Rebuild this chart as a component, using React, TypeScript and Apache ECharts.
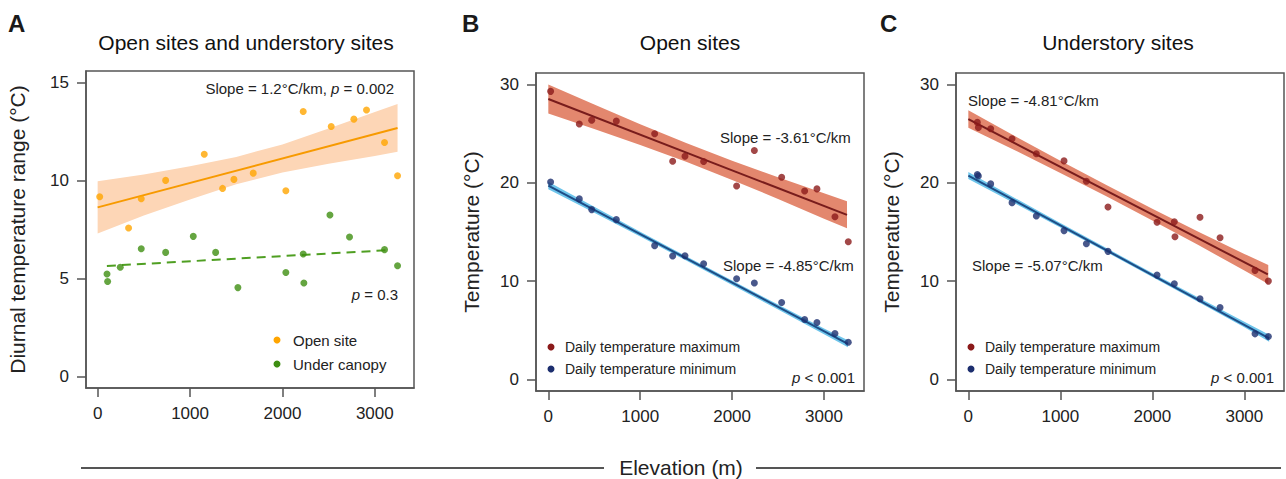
import React, { useEffect, useRef } from "react";
import * as echarts from "echarts";

const FONT = '"Liberation Sans", Arial, Helvetica, sans-serif';

// ---------- Panel A: diurnal temperature range ----------
const openElev = [22, 335, 472, 736, 1154, 1352, 1475, 1684, 2037, 2225, 2528, 2773, 2910, 3105, 3246];
const openDTR = [9.18, 7.59, 9.08, 10.02, 11.36, 9.61, 10.07, 10.39, 9.49, 13.54, 12.77, 13.15, 13.62, 11.96, 10.26];
const canopyElev = [101, 108, 245, 472, 736, 1035, 1277, 1518, 2037, 2225, 2232, 2514, 2726, 3105, 3246];
const canopyDTR = [5.24, 4.85, 5.58, 6.53, 6.34, 7.16, 6.34, 4.54, 5.31, 6.26, 4.78, 8.25, 7.13, 6.48, 5.66];
const openFitX = [0, 3246];
const openFitY = [8.64, 12.7];
const canopyFitX = [100, 3170];
const canopyFitY = [5.65, 6.46];
const bandXA = [0, 500, 1000, 1500, 2000, 2500, 3000, 3246];
const openBandHi = [9.98, 10.32, 10.74, 11.22, 11.86, 12.67, 13.51, 13.92];
const openBandLo = [7.3, 8.22, 9.04, 9.82, 10.42, 10.87, 11.27, 11.48];

// ---------- Panel B: open sites ----------
const openSiteElev = [25, 337, 472, 740, 1157, 1353, 1487, 1690, 2049, 2242, 2539, 2789, 2923, 3119, 3264];
const openMax = [29.32, 25.99, 26.39, 26.29, 25.0, 22.21, 22.72, 22.18, 19.69, 23.3, 20.58, 19.18, 19.39, 16.56, 14.01];
const openMin = [20.1, 18.37, 17.28, 16.26, 13.61, 12.55, 12.59, 11.77, 10.24, 9.8, 7.82, 6.09, 5.78, 4.66, 3.78];
const openMaxFitX = [0, 3250];
const openMaxFitY = [28.54, 16.74];
const openMinFitX = [0, 3260];
const openMinFitY = [19.73, 3.62];
const bandXB = [0, 500, 1000, 1500, 2000, 2500, 3000, 3250];
const openMaxHi = [30.02, 27.98, 25.96, 24.05, 22.26, 20.57, 18.95, 18.14];
const openMaxLo = [27.06, 25.48, 23.86, 22.15, 20.3, 18.37, 16.35, 15.38];
const bandXB2 = [0, 500, 1000, 1500, 2000, 2500, 3000, 3260];
const openMinHi = [20.11, 17.56, 15.03, 12.53, 10.05, 7.61, 5.18, 3.98];
const openMinLo = [19.35, 16.96, 14.53, 12.09, 9.61, 7.11, 4.58, 3.26];

// ---------- Panel C: understory sites ----------
const underMaxElev = [98, 109, 243, 475, 739, 1040, 1283, 1518, 2051, 2239, 2246, 2518, 2736, 3116, 3261];
const underMax = [26.16, 25.65, 25.51, 24.49, 22.96, 22.24, 20.17, 17.55, 15.99, 16.05, 14.52, 16.5, 14.42, 11.09, 10.0];
const underMinElev = [98, 109, 243, 475, 739, 1040, 1283, 1518, 2051, 2239, 2518, 2736, 3116, 3261];
const underMin = [20.85, 20.7, 19.9, 17.99, 16.63, 15.14, 13.81, 13.03, 10.61, 9.73, 8.2, 7.31, 4.63, 4.35];
const underMaxFitX = [0, 3255];
const underMaxFitY = [26.5, 10.68];
const underMinFitX = [0, 3270];
const underMinFitY = [20.75, 4.18];
const bandXC = [0, 500, 1000, 1500, 2000, 2500, 3000, 3260];
const underMaxHi = [27.39, 24.79, 22.26, 19.79, 17.38, 15.03, 12.77, 11.65];
const underMaxLo = [25.61, 23.35, 21.02, 18.63, 16.18, 13.67, 11.07, 9.71];
const bandXC2 = [0, 500, 1000, 1500, 2000, 2500, 3000, 3270];
const underMinHi = [21.1, 18.5, 15.91, 13.36, 10.83, 8.32, 5.85, 4.53];
const underMinLo = [20.4, 17.94, 15.47, 12.96, 10.43, 7.88, 5.29, 3.83];

// tick values
const elevTicks = [0, 1000, 2000, 3000];
const dtrTicks = [0, 5, 10, 15];
const tempTicks = [0, 10, 20, 30];

const C = {
  orange: "#FFA500",
  orangeLine: "#F79A00",
  orangeBand: "#FDD6B6",
  green: "#3E8E12",
  greenLine: "#4F9F22",
  red: "#8B1A1A",
  redLine: "#781C1C",
  redBand: "#E3876E",
  navy: "#1C2E6E",
  blueLine: "#1E4D86",
  blueBand: "#6EC5EB",
  axis: "#555555",
  text: "#222222",
};

const zip = (xs: number[], ys: number[]) => xs.map((x, i) => [x, ys[i]]);

const scatter = (name: string, xs: number[], ys: number[], color: string, idx: number) => ({
  type: "scatter",
  name,
  xAxisIndex: idx,
  yAxisIndex: idx,
  data: zip(xs, ys),
  symbol: "circle",
  symbolSize: 7,
  itemStyle: { color },
  z: 4,
  silent: true,
});

const fitLine = (name: string, xs: number[], ys: number[], color: string, idx: number, dashed = false) => ({
  type: "line",
  name,
  xAxisIndex: idx,
  yAxisIndex: idx,
  data: zip(xs, ys),
  symbol: "none",
  lineStyle: { color, width: 2, type: dashed ? [9, 6] : "solid" },
  z: 3,
  silent: true,
});

const band = (name: string, xs: number[], lo: number[], hi: number[], color: string, idx: number) => ({
  type: "custom",
  name,
  xAxisIndex: idx,
  yAxisIndex: idx,
  z: 1,
  silent: true,
  data: [[xs[0], lo[0]]],
  renderItem: (_params: any, api: any) => {
    const pts: number[][] = [];
    for (let i = 0; i < xs.length; i++) pts.push(api.coord([xs[i], hi[i]]));
    for (let i = xs.length - 1; i >= 0; i--) pts.push(api.coord([xs[i], lo[i]]));
    return { type: "polygon", shape: { points: pts }, style: { fill: color } };
  },
});

const plain = (v: number) => String(v);

const xAxisCfg = (idx: number, min: number, max: number) => ({
  type: "value",
  gridIndex: idx,
  min,
  max,
  axisLine: { show: true, onZero: false, lineStyle: { color: C.axis, width: 1.5 } },
  axisTick: { show: true, length: 9, customValues: elevTicks, lineStyle: { color: C.axis, width: 1.5 } },
  axisLabel: { customValues: elevTicks, formatter: plain, fontSize: 17, color: C.text, fontFamily: FONT, margin: 17 },
  splitLine: { show: false },
});

const yAxisCfg = (idx: number, min: number, max: number, ticks: number[], name: string, gap: number) => ({
  type: "value",
  gridIndex: idx,
  min,
  max,
  name,
  nameLocation: "middle",
  nameGap: gap,
  nameTextStyle: { fontSize: 21, color: C.text, fontFamily: FONT },
  axisLine: { show: true, onZero: false, lineStyle: { color: C.axis, width: 1.5 } },
  axisTick: { show: true, length: 9, customValues: ticks, lineStyle: { color: C.axis, width: 1.5 } },
  axisLabel: { customValues: ticks, formatter: plain, fontSize: 17, color: C.text, fontFamily: FONT, margin: 17 },
  splitLine: { show: false },
});

const txt = (x: number, y: number, text: string, size: number, align = "left", extra: any = {}) => ({
  type: "text",
  x,
  y,
  silent: true,
  style: {
    text,
    fontSize: size,
    fontFamily: FONT,
    fill: C.text,
    align,
    verticalAlign: "middle",
    textAlign: align,
    textVerticalAlign: "middle",
    ...extra,
  },
});

const richTxt = (x: number, y: number, text: string, size: number, align = "left") =>
  txt(x, y, text, size, align, {
    rich: {
      n: { fontSize: size, fontFamily: FONT, fill: C.text, color: C.text },
      i: { fontSize: size, fontFamily: FONT, fill: C.text, color: C.text, fontStyle: "italic" },
    },
  });

const dot = (cx: number, cy: number, color: string) => ({
  type: "circle",
  silent: true,
  shape: { cx, cy, r: 3.5 },
  style: { fill: color },
});

export default function App() {
  const ref = useRef<HTMLDivElement>(null);

  useEffect(() => {
    document.body.style.margin = "0";
    if (!ref.current) return;
    const chart = echarts.init(ref.current, undefined, { renderer: "svg" });

    const grids = [
      { left: 86, top: 71, width: 328, height: 317 },
      { left: 536, top: 73, width: 328, height: 318 },
      { left: 956, top: 73, width: 328, height: 318 },
    ].map((g) => ({ ...g, show: true, borderColor: C.axis, borderWidth: 1.5, backgroundColor: "transparent" }));

    const option: any = {
      animation: false,
      backgroundColor: "#ffffff",
      textStyle: { fontFamily: FONT },
      grid: grids,
      xAxis: [xAxisCfg(0, -126, 3424), xAxisCfg(1, -134, 3435), xAxisCfg(2, -134, 3431)],
      yAxis: [
        yAxisCfg(0, -0.59, 15.61, dtrTicks, "Diurnal temperature range (°C)", 58),
        yAxisCfg(1, -1.19, 31.19, tempTicks, "Temperature (°C)", 54),
        yAxisCfg(2, -1.19, 31.19, tempTicks, "Temperature (°C)", 54),
      ],
      series: [
        // A
        band("Open site CI", bandXA, openBandLo, openBandHi, C.orangeBand, 0),
        fitLine("Open site fit", openFitX, openFitY, C.orangeLine, 0),
        fitLine("Under canopy fit", canopyFitX, canopyFitY, C.greenLine, 0, true),
        scatter("Open site", openElev, openDTR, C.orange, 0),
        scatter("Under canopy", canopyElev, canopyDTR, C.green, 0),
        // B
        band("Open max CI", bandXB, openMaxLo, openMaxHi, C.redBand, 1),
        band("Open min CI", bandXB2, openMinLo, openMinHi, C.blueBand, 1),
        fitLine("Open max fit", openMaxFitX, openMaxFitY, C.redLine, 1),
        fitLine("Open min fit", openMinFitX, openMinFitY, C.blueLine, 1),
        scatter("Daily temperature maximum", openSiteElev, openMax, C.red, 1),
        scatter("Daily temperature minimum", openSiteElev, openMin, C.navy, 1),
        // C
        band("Understory max CI", bandXC, underMaxLo, underMaxHi, C.redBand, 2),
        band("Understory min CI", bandXC2, underMinLo, underMinHi, C.blueBand, 2),
        fitLine("Understory max fit", underMaxFitX, underMaxFitY, C.redLine, 2),
        fitLine("Understory min fit", underMinFitX, underMinFitY, C.blueLine, 2),
        scatter("Daily temperature maximum ", underMaxElev, underMax, C.red, 2),
        scatter("Daily temperature minimum ", underMinElev, underMin, C.navy, 2),
      ],
      graphic: [
        // panel letters
        txt(8, 23, "A", 24, "left", { fontWeight: "bold", fill: "#1a1a1a" }),
        txt(462, 23, "B", 24, "left", { fontWeight: "bold", fill: "#1a1a1a" }),
        txt(880, 23, "C", 24, "left", { fontWeight: "bold", fill: "#1a1a1a" }),
        // titles
        txt(246, 42, "Open sites and understory sites", 21, "center", { fill: "#111" }),
        txt(690, 42, "Open sites", 21, "center", { fill: "#111" }),
        txt(1118, 42, "Understory sites", 21, "center", { fill: "#111" }),
        // annotations A
        richTxt(394, 88, "{n|Slope = 1.2°C/km, }{i|p}{n| = 0.002}", 15, "right"),
        richTxt(398, 294, "{i|p}{n| = 0.3}", 15, "right"),
        // annotations B
        txt(720, 137, "Slope = -3.61°C/km", 15, "left"),
        txt(723, 265, "Slope = -4.85°C/km", 15, "left"),
        richTxt(855, 377, "{i|p}{n| < 0.001}", 15, "right"),
        // annotations C
        txt(968, 100, "Slope = -4.81°C/km", 15, "left"),
        txt(972, 265, "Slope = -5.07°C/km", 15, "left"),
        richTxt(1274, 377, "{i|p}{n| < 0.001}", 15, "right"),
        // legend A
        dot(277, 340, C.orange),
        txt(293, 340, "Open site", 15, "left"),
        dot(277, 364, C.green),
        txt(293, 364, "Under canopy", 15, "left"),
        // legend B
        dot(551, 347, C.red),
        txt(565, 347, "Daily temperature maximum", 14, "left"),
        dot(551, 369, C.navy),
        txt(565, 369, "Daily temperature minimum", 14, "left"),
        // legend C
        dot(971, 347, C.red),
        txt(985, 347, "Daily temperature maximum", 14, "left"),
        dot(971, 369, C.navy),
        txt(985, 369, "Daily temperature minimum", 14, "left"),
        // shared x-axis title
        { type: "line", silent: true, shape: { x1: 81, y1: 468, x2: 604, y2: 468 }, style: { stroke: C.axis, lineWidth: 2 } },
        { type: "line", silent: true, shape: { x1: 756, y1: 468, x2: 1281, y2: 468 }, style: { stroke: C.axis, lineWidth: 2 } },
        txt(681, 467, "Elevation (m)", 21, "center"),
      ],
    };

    chart.setOption(option);
    return () => chart.dispose();
  }, []);

  return <div ref={ref} style={{ width: 1286, height: 479 }} />;
}
